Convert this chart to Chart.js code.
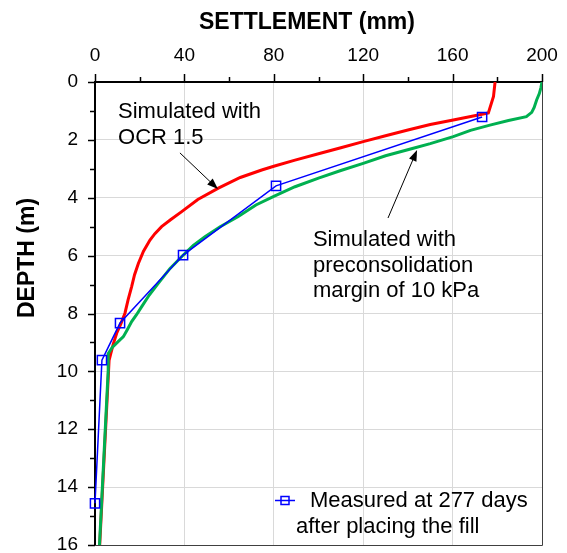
<!DOCTYPE html>
<html>
<head>
<meta charset="utf-8">
<script src="https://cdn.jsdelivr.net/npm/chart.js@4.4.1/dist/chart.umd.min.js"></script>
<style>
  html, body { margin: 0; padding: 0; background: #fff; }
</style>
</head>
<body>
<canvas id="myChart" width="567" height="553"></canvas>
<script>
// tick labels
const xTickLabels = [0, 40, 80, 120, 160, 200];
const yTickLabels = [0, 2, 4, 6, 8, 10, 12, 14, 16];

// measured settlement profile
const measuredSettlement = [173.2, 81.0, 39.4, 11.2, 3.1, 0];
const measuredDepth = [1.21, 3.59, 5.98, 8.33, 9.61, 14.56];

// simulated with OCR 1.5
const ocrSettlement = [179, 178.3, 176, 171.5, 160.3, 150, 140, 130, 120, 110, 100, 89.5, 80, 74.6, 65, 55.2, 46, 38.8, 33.8, 29.8, 26.8, 24.6, 21.7, 19.4, 17.7, 16.4, 14.8, 13.4, 11.6, 9.7, 8.2, 7.0, 6.3, 2.1];
const ocrDepth = [0, 0.5, 1.07, 1.14, 1.31, 1.47, 1.66, 1.86, 2.06, 2.27, 2.48, 2.70, 2.91, 3.04, 3.30, 3.67, 4.06, 4.48, 4.76, 5.00, 5.24, 5.46, 5.85, 6.27, 6.66, 7.07, 7.53, 7.99, 8.35, 8.68, 9.05, 9.4, 9.62, 16];

// simulated with preconsolidation margin of 10 kPa
const marginSettlement = [200, 199.5, 198.8, 197.6, 196.5, 195.4, 193, 185, 176.7, 168, 160.3, 150, 142, 130, 120, 110, 100, 89.5, 80, 72, 64.1, 56, 49.2, 44, 39.5, 33.5, 28.3, 24.2, 20.9, 18.5, 16.4, 14.5, 12.7, 10, 7.7, 5.9, 5.9, 2];
const marginDepth = [0, 0.2, 0.4, 0.62, 0.88, 1.05, 1.2, 1.33, 1.49, 1.67, 1.89, 2.13, 2.3, 2.55, 2.81, 3.06, 3.32, 3.62, 3.95, 4.25, 4.65, 5.0, 5.35, 5.65, 5.98, 6.45, 6.96, 7.37, 7.76, 8.05, 8.28, 8.55, 8.80, 9.0, 9.17, 9.39, 9.97, 16];

// texts
const ocrLabel = ['Simulated with', 'OCR 1.5'];
const marginLabel = ['Simulated with', 'preconsolidation', 'margin of 10 kPa'];
const legendLabel = ['Measured at 277 days', 'after placing the fill'];

const FONT = '"Liberation Sans", Arial, sans-serif';

function toPoints(xs, ys) {
  return xs.map((v, i) => ({ x: v, y: ys[i] }));
}

function arrow(ctx, x1, y1, x2, y2) {
  const ang = Math.atan2(y2 - y1, x2 - x1);
  ctx.beginPath();
  ctx.moveTo(x1, y1);
  ctx.lineTo(x2 - 8 * Math.cos(ang), y2 - 8 * Math.sin(ang));
  ctx.stroke();
  ctx.beginPath();
  ctx.moveTo(x2, y2);
  ctx.lineTo(x2 - 11 * Math.cos(ang) + 4 * Math.sin(ang), y2 - 11 * Math.sin(ang) - 4 * Math.cos(ang));
  ctx.lineTo(x2 - 11 * Math.cos(ang) - 4 * Math.sin(ang), y2 - 11 * Math.sin(ang) + 4 * Math.cos(ang));
  ctx.closePath();
  ctx.fill();
}

const decor = {
  id: 'decor',
  afterDatasetsDraw(chart) {
    const ctx = chart.ctx;
    const a = chart.chartArea;
    const x = chart.scales.x, y = chart.scales.y;
    ctx.save();

    // right and bottom frame
    ctx.strokeStyle = '#404040';
    ctx.lineWidth = 1;
    ctx.beginPath();
    ctx.moveTo(a.right + 0.5, a.top);
    ctx.lineTo(a.right + 0.5, a.bottom + 0.5);
    ctx.lineTo(a.left, a.bottom + 0.5);
    ctx.stroke();

    // tick marks, major and minor
    ctx.strokeStyle = '#000';
    ctx.lineWidth = 1.5;
    for (let v = 0; v <= 200; v += 20) {
      const px = Math.round(x.getPixelForValue(v)) + 0.5;
      const len = v % 40 === 0 ? 8 : 5;
      ctx.beginPath(); ctx.moveTo(px, a.top); ctx.lineTo(px, a.top - len); ctx.stroke();
    }
    for (let v = 0; v <= 16; v += 1) {
      const py = Math.round(y.getPixelForValue(v)) + 0.5;
      const len = v % 2 === 0 ? 7 : 5;
      ctx.beginPath(); ctx.moveTo(a.left, py); ctx.lineTo(a.left - len, py); ctx.stroke();
    }

    // axis titles
    ctx.fillStyle = '#000';
    ctx.font = 'bold 23px ' + FONT;
    ctx.textAlign = 'center';
    ctx.textBaseline = 'middle';
    ctx.fillText('SETTLEMENT (mm)', 307, 23);
    ctx.save();
    ctx.translate(28, 258);
    ctx.rotate(-Math.PI / 2);
    ctx.fillText('DEPTH (m)', 0, 0);
    ctx.restore();

    // annotations
    ctx.font = '22px ' + FONT;
    ctx.textAlign = 'left';
    ctx.textBaseline = 'alphabetic';
    ocrLabel.forEach((t, i) => ctx.fillText(t, x.getPixelForValue(10.3), y.getPixelForValue(1.24) + i * 26));
    marginLabel.forEach((t, i) => ctx.fillText(t, x.getPixelForValue(97.5), y.getPixelForValue(5.67) + i * 25.5));

    ctx.strokeStyle = '#000';
    ctx.lineWidth = 1;
    arrow(ctx, x.getPixelForValue(38.0), y.getPixelForValue(2.45), x.getPixelForValue(55.0), y.getPixelForValue(3.70));
    arrow(ctx, x.getPixelForValue(131.1), y.getPixelForValue(4.70), x.getPixelForValue(144.1), y.getPixelForValue(2.35));

    // legend
    ctx.strokeStyle = '#0000ff';
    ctx.lineWidth = 1.5;
    ctx.beginPath(); ctx.moveTo(275, 500.5); ctx.lineTo(295, 500.5); ctx.stroke();
    ctx.strokeRect(281, 496.5, 8, 8);
    ctx.fillText(legendLabel[0], 310, 507);
    ctx.fillText(legendLabel[1], 296, 533);

    ctx.restore();
  }
};

const data = {
  datasets: [
    {
      label: 'Measured',
      data: toPoints(measuredSettlement, measuredDepth),
      borderColor: '#0000ff',
      borderWidth: 1.5,
      pointStyle: 'rect',
      pointRadius: 6.5,
      pointBorderWidth: 1.5,
      pointBackgroundColor: 'rgba(0,0,0,0)',
      pointBorderColor: '#0000ff',
      showLine: true,
      clip: false,
      order: 0
    },
    {
      label: 'Margin 10 kPa',
      data: toPoints(marginSettlement, marginDepth),
      borderColor: '#00b050',
      borderWidth: 3,
      pointRadius: 0,
      showLine: true,
      order: 1
    },
    {
      label: 'OCR 1.5',
      data: toPoints(ocrSettlement, ocrDepth),
      borderColor: '#ff0000',
      borderWidth: 3,
      pointRadius: 0,
      showLine: true,
      order: 2
    }
  ]
};

const config = {
  type: 'scatter',
  data: data,
  options: {
    responsive: false,
    animation: false,
    layout: { padding: { left: 0, top: 0, right: 25, bottom: 8 } },
    plugins: { legend: { display: false }, tooltip: { enabled: false } },
    scales: {
      x: {
        type: 'linear',
        position: 'top',
        min: 0,
        max: 200,
        afterFit(scale) {
          scale.height = 82;
          scale.paddingLeft = 0;
          scale.paddingRight = 0;
        },
        ticks: {
          stepSize: 20,
          padding: 15,
          color: '#000',
          font: { family: FONT, size: 19 },
          maxRotation: 0,
          autoSkip: false,
          callback: v => xTickLabels.includes(v) ? String(v) : ''
        },
        grid: {
          drawTicks: false,
          color: c => (c.tick && c.tick.value % 40 === 0 && c.tick.value > 0 && c.tick.value < 200) ? '#d9d9d9' : 'rgba(0,0,0,0)',
          lineWidth: 1
        },
        border: { display: true, color: '#000', width: 2 }
      },
      y: {
        type: 'linear',
        reverse: true,
        min: 0,
        max: 16,
        afterFit(scale) {
          scale.width = 95;
          scale.paddingTop = 0;
          scale.paddingBottom = 0;
        },
        ticks: {
          stepSize: 1,
          padding: 17,
          color: '#000',
          font: { family: FONT, size: 19 },
          autoSkip: false,
          callback: v => yTickLabels.includes(v) ? String(v) : ''
        },
        grid: {
          drawTicks: false,
          color: c => (c.tick && c.tick.value % 2 === 0 && c.tick.value > 0 && c.tick.value < 16) ? '#d9d9d9' : 'rgba(0,0,0,0)',
          lineWidth: 1
        },
        border: { display: true, color: '#000', width: 2 }
      }
    }
  },
  plugins: [decor]
};

var myChart = new Chart(document.getElementById('myChart'), config);
</script>
</body>
</html>
